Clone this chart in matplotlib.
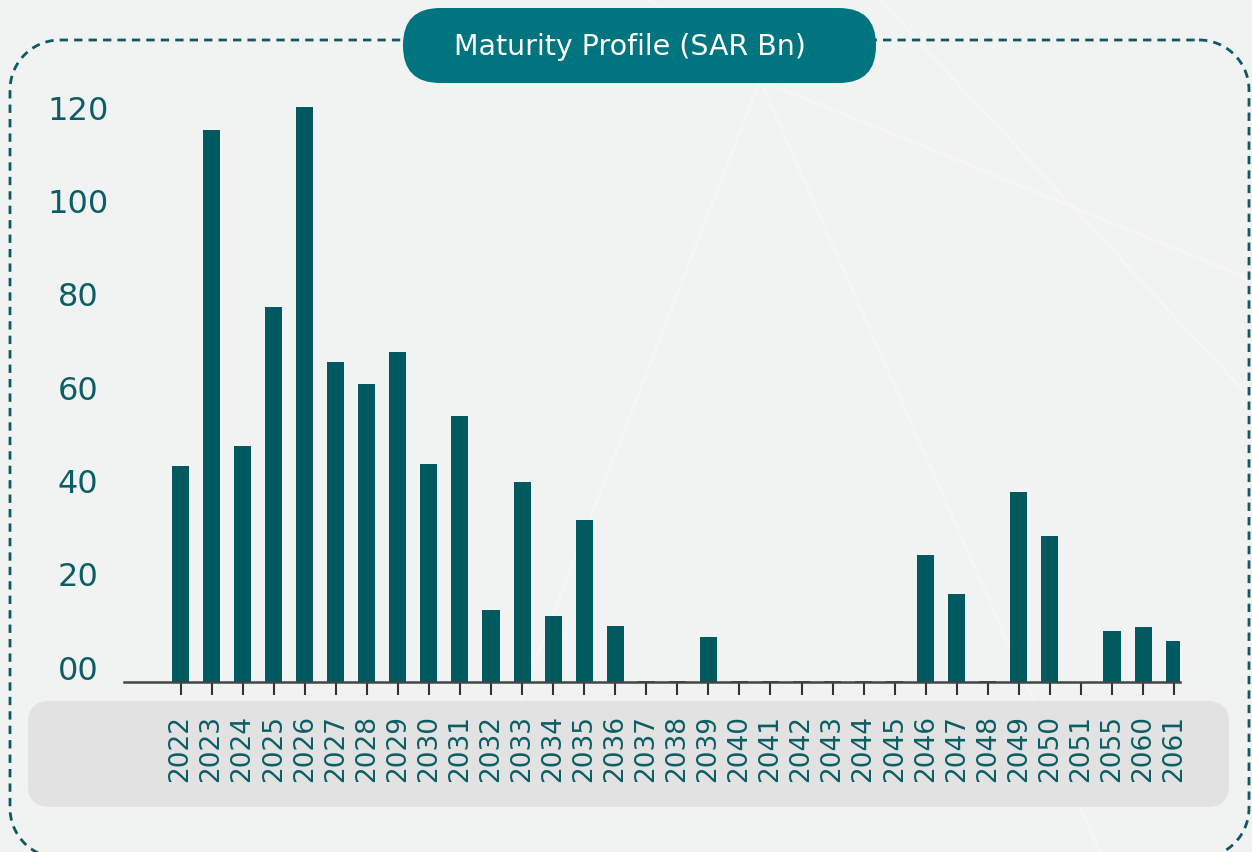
import matplotlib
matplotlib.use("Agg")
import numpy as np
import matplotlib.pyplot as plt
from matplotlib.patches import FancyBboxPatch
from matplotlib.transforms import ScaledTranslation

# ---- data ----
years = ["2022", "2023", "2024", "2025", "2026", "2027", "2028", "2029", "2030", "2031",
         "2032", "2033", "2034", "2035", "2036", "2037", "2038", "2039", "2040", "2041",
         "2042", "2043", "2044", "2045", "2046", "2047", "2048", "2049", "2050", "2051",
         "2055", "2060", "2061"]
values = [46.3, 118.3, 50.6, 80.4, 123.3, 68.6, 63.9, 70.7, 46.7, 57.0,
          15.4, 42.9, 14.1, 34.7, 12.0, 0.3, 0.3, 9.6, 0.3, 0.3,
          0.3, 0.3, 0.3, 0.3, 27.2, 18.9, 0.3, 40.8, 31.3, 0.0,
          10.9, 11.8, 8.8]
y_ticks = [0, 20, 40, 60, 80, 100, 120]
y_tick_labels = ["00", "20", "40", "60", "80", "100", "120"]
title = "Maturity Profile (SAR Bn)"

BAR = "#005A60"
TEAL_TXT = "#0B5E65"
PILL = "#00757F"
BG = "#F1F2F2"

W, H = 1252, 852
fig = plt.figure(figsize=(W / 100, H / 100), dpi=100, facecolor=BG)

# overlay axes in pixel units for decorations
bg = fig.add_axes([0, 0, 1, 1], zorder=0)
bg.set_xlim(0, W)
bg.set_ylim(H, 0)
bg.axis("off")
bg.patch.set_alpha(0)

# subtle light texture lines
for (x0, y0, x1, y1) in [(760, 80, 1252, 280), (760, 80, 1100, 852), (880, 0, 1252, 400),
                         (760, 80, 520, 700), (760, 80, 650, 0)]:
    bg.plot([x0, x1], [y0, y1], color="white", lw=2.0, alpha=0.3, zorder=0.5)

# dashed rounded frame (pixel coordinates)
def rounded_rect(x0, y0, x1, y1, r, n=30):
    pts = []
    corners = [((x1 - r, y0 + r), -90, 0), ((x1 - r, y1 - r), 0, 90),
               ((x0 + r, y1 - r), 90, 180), ((x0 + r, y0 + r), 180, 270)]
    for (cx, cy), a0, a1 in corners:
        t = np.radians(np.linspace(a0, a1, n))
        pts.extend(zip(cx + r * np.cos(t), cy + r * np.sin(t)))
    pts.append(pts[0])
    return np.array(pts)

fr = rounded_rect(10, 40, 1249, 858, 50)
bg.plot(fr[:, 0], fr[:, 1], color="#0D5A62", lw=2.0, linestyle=(0, (3.0, 2.2)), zorder=1)

# grey label band
band = FancyBboxPatch((28 + 22, 701 + 22), 1201 - 44, 106 - 44,
                      boxstyle="round,pad=22", facecolor="#E2E2E2", edgecolor="none", zorder=1)
bg.add_patch(band)

# title pill
pill = FancyBboxPatch((403 + 37, 8 + 37), 473 - 74, 75 - 74,
                      boxstyle="round,pad=37", facecolor=PILL, edgecolor="none", zorder=3)
bg.add_patch(pill)
bg.text(630, 47, title, color="white", fontsize=20.5, ha="center", va="center",
        family="DejaVu Sans", zorder=4)

# ---- main chart ----
left, right = 124, 1180
bottom, top = 682, 95
ax = fig.add_axes([left / W, (H - bottom) / H, (right - left) / W, (bottom - top) / H], zorder=2)
ax.patch.set_alpha(0)

x = list(range(len(years)))
ax.bar(x, values, width=0.55, color=BAR, edgecolor="none", zorder=2)

px_per_cat = 31.05
ax.set_xlim(-(180.5 - left) / px_per_cat, (right - 180.5) / px_per_cat)
px_per_unit = 4.665
ax.set_ylim(0, (bottom - top) / px_per_unit)

for s in ["top", "right", "left"]:
    ax.spines[s].set_visible(False)
ax.spines["bottom"].set_color("#454545")
ax.spines["bottom"].set_linewidth(1.8)
ax.spines["bottom"].set_zorder(3)

ax.set_xticks(x)
ax.set_xticklabels(years, rotation=90, color=TEAL_TXT, fontsize=19, family="DejaVu Sans",
                   va="top", ha="center")
ax.tick_params(axis="x", length=9.5, width=1.5, color="#333333", pad=14)

ax.set_yticks([])
offset = ScaledTranslation(0, 0.11, fig.dpi_scale_trans)
ytrans = ax.get_yaxis_transform() + offset
for v, lab in zip(y_ticks, y_tick_labels):
    ax.text((78 - left) / (right - left), v, lab, transform=ytrans, ha="center", va="center",
            fontsize=23, color=TEAL_TXT, family="DejaVu Sans", clip_on=False)

fig.savefig("out.png", dpi=100, facecolor=BG)
